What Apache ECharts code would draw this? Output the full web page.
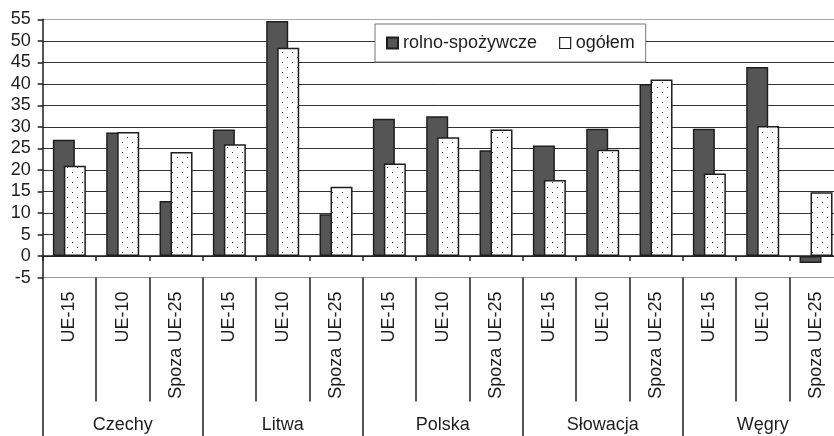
<!DOCTYPE html>
<html>
<head>
<meta charset="utf-8">
<script src="https://cdn.jsdelivr.net/npm/echarts@6/dist/echarts.min.js"></script>
<style>
  html, body { margin: 0; padding: 0; background: #fff; }
  #chart { width: 834px; height: 436px; }
</style>
</head>
<body>
<div id="chart"></div>
<script>
// kategorie (wewnętrzne) i kraje (zewnętrzne)
const partners = ["UE-15", "UE-10", "Spoza UE-25"];
const countries = ["Czechy", "Litwa", "Polska", "Słowacja", "Węgry"];
const seriesNames = ["rolno-spożywcze", "ogółem"];

// wartości, kolejno kraj x partner
const rolnoSpozywcze = [27, 28.7, 12.8, 29.4, 54.6, 9.7, 31.9, 32.5, 24.6, 25.7, 29.6, 40.0, 29.6, 43.9, -1.6];
const ogolem = [21, 28.8, 24.2, 26.0, 48.4, 16.1, 21.5, 27.6, 29.4, 17.7, 24.7, 41.0, 19.2, 30.2, 14.8];

const yTicks = { min: -5, max: 55, interval: 5 };

const categories = [];
countries.forEach(function (c) {
  partners.forEach(function (p) { categories.push(c + "|" + p); });
});

// wzór kropkowany dla drugiej serii
function dotPattern() {
  const cv = document.createElement("canvas");
  cv.width = 10;
  cv.height = 10;
  const ctx = cv.getContext("2d");
  ctx.fillStyle = "#fff";
  ctx.fillRect(0, 0, 10, 10);
  ctx.fillStyle = "#333";
  ctx.fillRect(2, 2, 1, 1);
  ctx.fillRect(7, 7, 1, 1);
  return cv;
}

const font = "'Liberation Sans', Arial, sans-serif";
const dark = "#1e1e1e";

const splitColors = ["#9a9a9a"];
for (let i = 0; i < 11; i++) splitColors.push("#333");
splitColors.push("#aaaaaa");

const chart = echarts.init(document.getElementById("chart"));
const option = {
  animation: false,
  backgroundColor: "#fff",
  textStyle: { fontFamily: font },
  grid: {
    left: 42.7,
    top: 19.3,
    width: 800,
    height: 258.3,
    outerBoundsMode: "none",
    containLabel: false,
  },
  legend: {
    left: 375,
    top: 24,
    padding: [10, 11, 10, 11],
    itemGap: 22,
    itemWidth: 11,
    itemHeight: 11,
    icon: "rect",
    backgroundColor: "#fff",
    borderColor: "#777",
    borderWidth: 1,
    textStyle: { fontSize: 18, color: dark, fontFamily: font },
    data: [
      { name: seriesNames[0] },
      { name: seriesNames[1], itemStyle: { color: "#fff", borderColor: dark, borderWidth: 1.2 } },
    ],
  },
  xAxis: [
    {
      type: "category",
      data: categories,
      axisLine: { show: true, onZero: true, lineStyle: { color: dark, width: 1.5 } },
      axisTick: { show: true, length: 5, interval: 0, lineStyle: { color: dark, width: 1.5 } },
      axisLabel: { show: false },
      splitLine: { show: false },
    },
    {
      type: "category",
      position: "bottom",
      data: categories,
      axisLine: { show: false, onZero: false },
      axisTick: { show: true, length: 124, interval: 0, lineStyle: { color: dark, width: 1.5 } },
      axisLabel: {
        interval: 0,
        rotate: 90,
        margin: 14,
        fontSize: 18,
        color: dark,
        fontFamily: font,
        formatter: function (v) { return v.split("|")[1]; },
      },
      splitLine: { show: false },
    },
    {
      type: "category",
      position: "bottom",
      data: countries,
      axisLine: { show: false, onZero: false },
      axisTick: { show: true, length: 160, interval: 0, lineStyle: { color: dark, width: 1.5 } },
      axisLabel: { interval: 0, margin: 138, fontSize: 18, color: dark, fontFamily: font },
      splitLine: { show: false },
    },
  ],
  yAxis: {
    type: "value",
    min: yTicks.min,
    max: yTicks.max,
    interval: yTicks.interval,
    axisLine: { show: true, lineStyle: { color: dark, width: 1.5 } },
    axisTick: { show: true, length: 5, lineStyle: { color: dark, width: 1.5 } },
    axisLabel: { fontSize: 18, color: dark, margin: 12, fontFamily: font },
    splitLine: { show: true, lineStyle: { color: splitColors, width: 1 } },
  },
  series: [
    {
      name: seriesNames[0],
      type: "bar",
      xAxisIndex: 0,
      barWidth: 22,
      barGap: "-50%",
      data: rolnoSpozywcze,
      itemStyle: { color: "#555", borderColor: dark, borderWidth: 1.5 },
    },
    {
      name: seriesNames[1],
      type: "bar",
      xAxisIndex: 0,
      barWidth: 22,
      barGap: "-50%",
      data: ogolem,
      itemStyle: {
        color: { image: dotPattern(), repeat: "repeat" },
        borderColor: dark,
        borderWidth: 1.5,
      },
    },
  ],
};
chart.setOption(option);
</script>
</body>
</html>
